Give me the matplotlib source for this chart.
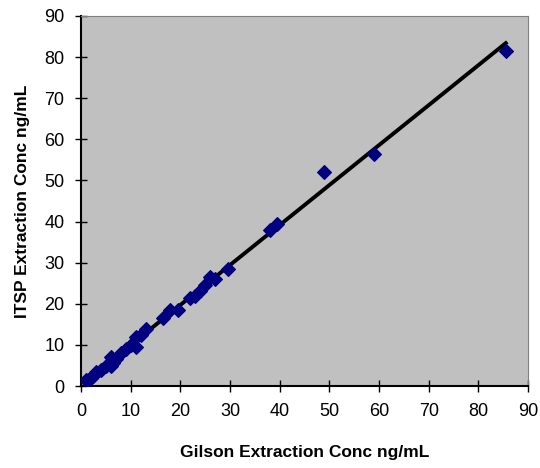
import numpy as np
import matplotlib
matplotlib.use("Agg")
from matplotlib import pyplot as plt

plt.rcParams['font.family'] = ['Liberation Sans', 'DejaVu Sans']

# Gilson vs ITSP extraction concentrations (ng/mL)
gilson = [1.0, 1.5, 2.0, 2.5, 3.0, 4.0, 5.0, 6.0, 6.0, 6.5, 7.0, 8.0, 9.0, 10.0,
          11.0, 11.0, 12.0, 13.0, 16.5, 18.0, 19.5, 22.0, 23.0, 24.0, 25.0,
          26.0, 27.0, 29.5, 38.0, 39.5, 49.0, 59.0, 85.5]
itsp = [1.5, 1.5, 2.0, 2.5, 3.5, 4.0, 5.0, 5.0, 7.0, 5.5, 6.5, 8.0, 9.0, 10.0,
        9.5, 12.0, 12.5, 14.0, 16.5, 18.5, 18.5, 21.5, 22.0, 23.0, 24.5,
        26.5, 26.0, 28.5, 38.0, 39.5, 52.0, 56.5, 81.5]

fig = plt.figure(figsize=(5.4, 4.68), dpi=100)
ax = fig.add_axes([0.15, 0.175, 0.828, 0.791])
ax.set_facecolor('#C0C0C0')

# linear trendline
slope, intercept = np.polyfit(gilson, itsp, 1)
xs = np.array([min(gilson), max(gilson)])
ax.plot(xs, slope * xs + intercept, color='black', lw=2.8, zorder=2)
ax.scatter(gilson, itsp, marker='D', s=48, color='#000080', zorder=3)

ax.set_xlim(0, 90)
ax.set_ylim(0, 90)
ax.set_xticks(range(0, 91, 10))
ax.set_yticks(range(0, 91, 10))
ax.tick_params(direction='inout', length=8, width=1, labelsize=13, pad=8)
for s in ['top', 'right']:
    ax.spines[s].set_color('#808080')
for s in ['left', 'bottom']:
    ax.spines[s].set_linewidth(1.5)

ax.set_xlabel('Gilson Extraction Conc ng/mL', fontsize=12.5, fontweight='bold', labelpad=18)
ax.set_ylabel('ITSP Extraction Conc ng/mL', fontsize=12.5, fontweight='bold', labelpad=10)

plt.savefig('out.png', dpi=100)
